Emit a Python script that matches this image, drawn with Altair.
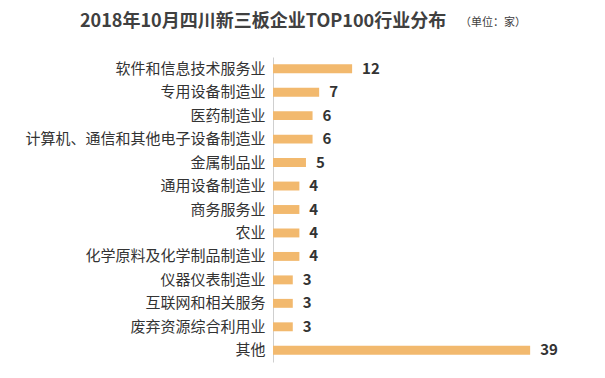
import altair as alt
import pandas as pd

categories = ["软件和信息技术服务业", "专用设备制造业", "医药制造业", "计算机、通信和其他电子设备制造业",
              "金属制品业", "通用设备制造业", "商务服务业", "农业", "化学原料及化学制品制造业",
              "仪器仪表制造业", "互联网和相关服务", "废弃资源综合利用业", "其他"]
values = [12, 7, 6, 6, 5, 4, 4, 4, 4, 3, 3, 3, 39]
title_text = "2018年10月四川新三板企业TOP100行业分布"
unit_text = "（单位：家）"

FONT = "Noto Sans CJK SC"
df = pd.DataFrame({"cat": categories, "val": values})

base = alt.Chart(df).encode(
    y=alt.Y("cat:N", sort=categories, title=None,
            scale=alt.Scale(paddingInner=0.62, paddingOuter=0.31),
            axis=alt.Axis(ticks=False, domainColor="#cfcfcf", labelFont=FONT, labelFontSize=15,
                          labelColor="#333333", labelPadding=8, labelLimit=400)),
    x=alt.X("val:Q", scale=alt.Scale(domain=[0, 45.5]), axis=None),
)
bars = base.mark_bar(color="#F2B96E")
labels = base.mark_text(align="left", dx=10, font=FONT, fontSize=15, fontWeight="bold",
                        color="#333333").encode(text="val:Q")

title = alt.Chart(pd.DataFrame({"t": [title_text]})).mark_text(
    align="left", baseline="alphabetic", font=FONT, fontSize=18, fontWeight="bold", color="#404040"
).encode(text="t:N", x=alt.value(-193), y=alt.value(-30))

unit = alt.Chart(pd.DataFrame({"t": [unit_text]})).mark_text(
    align="left", baseline="alphabetic", font=FONT, fontSize=11, color="#404040"
).encode(text="t:N", x=alt.value(187), y=alt.value(-31))

chart = alt.layer(bars, labels, title, unit).properties(
    width=300, height=305,
    autosize=alt.AutoSizeParams(type="none"),
    padding={"left": 265, "top": 49, "right": 0, "bottom": 10},
).configure_view(stroke=None)

chart.save("out.html", embed_options={"renderer": "svg", "actions": False})
